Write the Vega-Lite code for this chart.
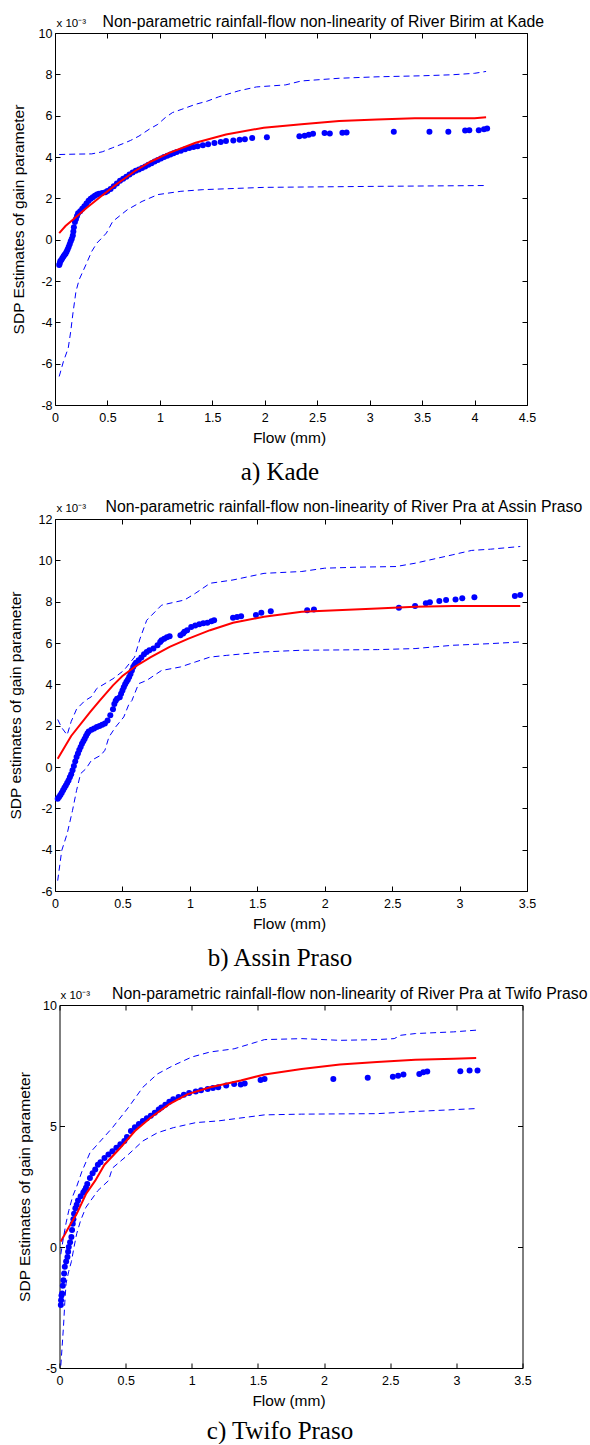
{
  "$schema": "https://vega.github.io/schema/vega-lite/v6.json",
  "padding": {"left": 8, "top": 13, "right": 0, "bottom": 0},
  "config": {
    "view": {"stroke": null},
    "axis": {
      "grid": false,
      "domainColor": "black",
      "domainWidth": 1,
      "tickColor": "black",
      "tickWidth": 1,
      "tickSize": -5,
      "labelColor": "black",
      "titleColor": "black",
      "labelFont": "Liberation Sans",
      "titleFont": "Liberation Sans",
      "labelFontSize": 12.5,
      "titleFontSize": 15.5,
      "titleFontWeight": "normal",
      "titleLimit": 2000,
      "labelFlush": false,
      "labelOverlap": false
    }
  },
  "datasets": {
    "kade": [
      {"s":"u","x":0.04,"y":4.12},{"s":"u","x":0.2,"y":4.14},{"s":"u","x":0.35,"y":4.15},{"s":"u","x":0.45,"y":4.25},{"s":"u","x":0.55,"y":4.45},{"s":"u","x":0.65,"y":4.65},{"s":"u","x":0.72,"y":4.8},{"s":"u","x":0.8,"y":5.01},{"s":"u","x":0.9,"y":5.35},{"s":"u","x":0.98,"y":5.58},{"s":"u","x":1.05,"y":5.9},{"s":"u","x":1.12,"y":6.15},{"s":"u","x":1.21,"y":6.31},{"s":"u","x":1.34,"y":6.55},{"s":"u","x":1.45,"y":6.7},{"s":"u","x":1.56,"y":6.91},{"s":"u","x":1.75,"y":7.2},{"s":"u","x":1.92,"y":7.39},{"s":"u","x":2.2,"y":7.49},{"s":"u","x":2.35,"y":7.68},{"s":"u","x":2.71,"y":7.81},{"s":"u","x":3.07,"y":7.88},{"s":"u","x":3.5,"y":7.93},{"s":"u","x":3.79,"y":7.98},{"s":"u","x":4.0,"y":8.05},{"s":"u","x":4.11,"y":8.14},
      {"s":"l","x":0.04,"y":-6.62},{"s":"l","x":0.08,"y":-5.9},{"s":"l","x":0.126,"y":-5.25},{"s":"l","x":0.15,"y":-4.44},{"s":"l","x":0.17,"y":-3.6},{"s":"l","x":0.2,"y":-2.5},{"s":"l","x":0.23,"y":-1.94},{"s":"l","x":0.295,"y":-1.21},{"s":"l","x":0.35,"y":-0.57},{"s":"l","x":0.4,"y":-0.16},{"s":"l","x":0.45,"y":0.1},{"s":"l","x":0.49,"y":0.32},{"s":"l","x":0.55,"y":0.88},{"s":"l","x":0.69,"y":1.45},{"s":"l","x":0.83,"y":1.85},{"s":"l","x":0.98,"y":2.18},{"s":"l","x":1.2,"y":2.34},{"s":"l","x":1.41,"y":2.42},{"s":"l","x":1.99,"y":2.53},{"s":"l","x":3.07,"y":2.58},{"s":"l","x":4.11,"y":2.62},
      {"s":"f","x":0.04,"y":0.32},{"s":"f","x":0.1,"y":0.66},{"s":"f","x":0.17,"y":0.96},{"s":"f","x":0.3,"y":1.53},{"s":"f","x":0.44,"y":2.1},{"s":"f","x":0.58,"y":2.66},{"s":"f","x":0.76,"y":3.31},{"s":"f","x":0.91,"y":3.77},{"s":"f","x":1.09,"y":4.2},{"s":"f","x":1.34,"y":4.69},{"s":"f","x":1.63,"y":5.09},{"s":"f","x":1.99,"y":5.42},{"s":"f","x":2.35,"y":5.58},{"s":"f","x":2.71,"y":5.74},{"s":"f","x":3.07,"y":5.82},{"s":"f","x":3.43,"y":5.87},{"s":"f","x":3.79,"y":5.87},{"s":"f","x":4.0,"y":5.88},{"s":"f","x":4.11,"y":5.92},
      {"s":"e","x":0.04,"y":-1.22},{"s":"e","x":0.045,"y":-1.15},{"s":"e","x":0.05,"y":-1.05},{"s":"e","x":0.06,"y":-0.98},{"s":"e","x":0.07,"y":-0.9},{"s":"e","x":0.08,"y":-0.82},{"s":"e","x":0.09,"y":-0.74},{"s":"e","x":0.1,"y":-0.68},{"s":"e","x":0.11,"y":-0.58},{"s":"e","x":0.12,"y":-0.48},{"s":"e","x":0.13,"y":-0.36},{"s":"e","x":0.14,"y":-0.22},{"s":"e","x":0.15,"y":-0.08},{"s":"e","x":0.16,"y":0.05},{"s":"e","x":0.17,"y":0.2},{"s":"e","x":0.175,"y":0.4},{"s":"e","x":0.18,"y":0.6},{"s":"e","x":0.19,"y":0.85},{"s":"e","x":0.2,"y":1.0},{"s":"e","x":0.21,"y":1.15},{"s":"e","x":0.22,"y":1.28},{"s":"e","x":0.24,"y":1.38},{"s":"e","x":0.26,"y":1.5},{"s":"e","x":0.28,"y":1.62},{"s":"e","x":0.3,"y":1.75},{"s":"e","x":0.32,"y":1.88},{"s":"e","x":0.34,"y":1.98},{"s":"e","x":0.36,"y":2.05},{"s":"e","x":0.38,"y":2.12},{"s":"e","x":0.4,"y":2.18},{"s":"e","x":0.42,"y":2.22},{"s":"e","x":0.45,"y":2.26},{"s":"e","x":0.48,"y":2.3},{"s":"e","x":0.5,"y":2.36},{"s":"e","x":0.53,"y":2.45},{"s":"e","x":0.56,"y":2.58},{"s":"e","x":0.59,"y":2.72},{"s":"e","x":0.62,"y":2.85},{"s":"e","x":0.65,"y":2.95},{"s":"e","x":0.68,"y":3.05},{"s":"e","x":0.71,"y":3.15},{"s":"e","x":0.74,"y":3.25},{"s":"e","x":0.77,"y":3.33},{"s":"e","x":0.8,"y":3.4},{"s":"e","x":0.83,"y":3.47},{"s":"e","x":0.86,"y":3.54},{"s":"e","x":0.89,"y":3.62},{"s":"e","x":0.92,"y":3.7},{"s":"e","x":0.95,"y":3.78},{"s":"e","x":0.98,"y":3.86},{"s":"e","x":1.01,"y":3.93},{"s":"e","x":1.04,"y":4.0},{"s":"e","x":1.07,"y":4.06},{"s":"e","x":1.1,"y":4.12},{"s":"e","x":1.13,"y":4.18},{"s":"e","x":1.16,"y":4.24},{"s":"e","x":1.2,"y":4.3},{"s":"e","x":1.24,"y":4.38},{"s":"e","x":1.28,"y":4.43},{"s":"e","x":1.32,"y":4.48},{"s":"e","x":1.36,"y":4.52},{"s":"e","x":1.41,"y":4.57},{"s":"e","x":1.46,"y":4.62},{"s":"e","x":1.52,"y":4.68},{"s":"e","x":1.58,"y":4.73},{"s":"e","x":1.63,"y":4.77},{"s":"e","x":1.7,"y":4.8},{"s":"e","x":1.76,"y":4.83},{"s":"e","x":1.81,"y":4.86},{"s":"e","x":1.88,"y":4.92},{"s":"e","x":2.02,"y":4.96},{"s":"e","x":2.33,"y":5.01},{"s":"e","x":2.38,"y":5.03},{"s":"e","x":2.42,"y":5.08},{"s":"e","x":2.46,"y":5.12},{"s":"e","x":2.57,"y":5.16},{"s":"e","x":2.62,"y":5.14},{"s":"e","x":2.74,"y":5.17},{"s":"e","x":2.78,"y":5.18},{"s":"e","x":3.23,"y":5.22},{"s":"e","x":3.57,"y":5.22},{"s":"e","x":3.75,"y":5.22},{"s":"e","x":3.91,"y":5.28},{"s":"e","x":3.95,"y":5.29},{"s":"e","x":4.04,"y":5.3},{"s":"e","x":4.09,"y":5.34},{"s":"e","x":4.12,"y":5.38}
    ],
    "assin": [
      {"s":"u","x":0.02,"y":2.3},{"s":"u","x":0.05,"y":1.9},{"s":"u","x":0.09,"y":1.55},{"s":"u","x":0.12,"y":2.2},{"s":"u","x":0.16,"y":2.8},{"s":"u","x":0.22,"y":3.2},{"s":"u","x":0.27,"y":3.4},{"s":"u","x":0.31,"y":3.8},{"s":"u","x":0.43,"y":4.27},{"s":"u","x":0.51,"y":4.67},{"s":"u","x":0.59,"y":5.32},{"s":"u","x":0.63,"y":6.2},{"s":"u","x":0.68,"y":7.1},{"s":"u","x":0.79,"y":7.83},{"s":"u","x":0.87,"y":7.95},{"s":"u","x":0.96,"y":8.08},{"s":"u","x":1.04,"y":8.4},{"s":"u","x":1.15,"y":8.89},{"s":"u","x":1.32,"y":9.05},{"s":"u","x":1.55,"y":9.37},{"s":"u","x":1.83,"y":9.46},{"s":"u","x":2.0,"y":9.62},{"s":"u","x":2.25,"y":9.67},{"s":"u","x":2.53,"y":9.7},{"s":"u","x":2.67,"y":9.86},{"s":"u","x":2.95,"y":10.27},{"s":"u","x":3.09,"y":10.48},{"s":"u","x":3.23,"y":10.54},{"s":"u","x":3.45,"y":10.67},
      {"s":"l","x":0.02,"y":-5.5},{"s":"l","x":0.05,"y":-4.04},{"s":"l","x":0.09,"y":-3.23},{"s":"l","x":0.13,"y":-2.1},{"s":"l","x":0.16,"y":-1.13},{"s":"l","x":0.19,"y":-0.32},{"s":"l","x":0.23,"y":-0.08},{"s":"l","x":0.27,"y":0.32},{"s":"l","x":0.34,"y":0.57},{"s":"l","x":0.37,"y":0.81},{"s":"l","x":0.4,"y":1.45},{"s":"l","x":0.45,"y":1.94},{"s":"l","x":0.51,"y":2.42},{"s":"l","x":0.55,"y":3.07},{"s":"l","x":0.57,"y":3.21},{"s":"l","x":0.62,"y":4.03},{"s":"l","x":0.68,"y":4.19},{"s":"l","x":0.79,"y":4.67},{"s":"l","x":0.93,"y":4.84},{"s":"l","x":1.04,"y":5.08},{"s":"l","x":1.15,"y":5.32},{"s":"l","x":1.27,"y":5.4},{"s":"l","x":1.55,"y":5.57},{"s":"l","x":1.83,"y":5.65},{"s":"l","x":2.39,"y":5.68},{"s":"l","x":2.67,"y":5.73},{"s":"l","x":2.95,"y":5.89},{"s":"l","x":3.23,"y":5.97},{"s":"l","x":3.45,"y":6.05},
      {"s":"f","x":0.02,"y":0.4},{"s":"f","x":0.12,"y":1.5},{"s":"f","x":0.26,"y":2.65},{"s":"f","x":0.33,"y":3.2},{"s":"f","x":0.43,"y":3.95},{"s":"f","x":0.5,"y":4.4},{"s":"f","x":0.59,"y":4.84},{"s":"f","x":0.71,"y":5.32},{"s":"f","x":0.85,"y":5.81},{"s":"f","x":0.99,"y":6.21},{"s":"f","x":1.15,"y":6.62},{"s":"f","x":1.32,"y":6.98},{"s":"f","x":1.55,"y":7.27},{"s":"f","x":1.83,"y":7.51},{"s":"f","x":2.39,"y":7.67},{"s":"f","x":2.67,"y":7.75},{"s":"f","x":2.95,"y":7.79},{"s":"f","x":3.45,"y":7.79},
      {"s":"e","x":0.02,"y":-1.54},{"s":"e","x":0.03,"y":-1.45},{"s":"e","x":0.04,"y":-1.35},{"s":"e","x":0.05,"y":-1.25},{"s":"e","x":0.06,"y":-1.13},{"s":"e","x":0.07,"y":-1.0},{"s":"e","x":0.08,"y":-0.9},{"s":"e","x":0.09,"y":-0.78},{"s":"e","x":0.1,"y":-0.65},{"s":"e","x":0.11,"y":-0.5},{"s":"e","x":0.12,"y":-0.35},{"s":"e","x":0.13,"y":-0.16},{"s":"e","x":0.14,"y":0.05},{"s":"e","x":0.15,"y":0.27},{"s":"e","x":0.16,"y":0.48},{"s":"e","x":0.17,"y":0.65},{"s":"e","x":0.18,"y":0.82},{"s":"e","x":0.19,"y":0.97},{"s":"e","x":0.2,"y":1.12},{"s":"e","x":0.21,"y":1.25},{"s":"e","x":0.22,"y":1.37},{"s":"e","x":0.23,"y":1.5},{"s":"e","x":0.24,"y":1.62},{"s":"e","x":0.25,"y":1.72},{"s":"e","x":0.27,"y":1.8},{"s":"e","x":0.29,"y":1.86},{"s":"e","x":0.31,"y":1.94},{"s":"e","x":0.33,"y":1.98},{"s":"e","x":0.35,"y":2.04},{"s":"e","x":0.37,"y":2.1},{"s":"e","x":0.39,"y":2.25},{"s":"e","x":0.41,"y":2.5},{"s":"e","x":0.43,"y":2.8},{"s":"e","x":0.44,"y":3.05},{"s":"e","x":0.45,"y":3.2},{"s":"e","x":0.46,"y":3.3},{"s":"e","x":0.48,"y":3.38},{"s":"e","x":0.49,"y":3.55},{"s":"e","x":0.5,"y":3.7},{"s":"e","x":0.51,"y":3.86},{"s":"e","x":0.52,"y":4.0},{"s":"e","x":0.53,"y":4.12},{"s":"e","x":0.54,"y":4.22},{"s":"e","x":0.55,"y":4.35},{"s":"e","x":0.56,"y":4.5},{"s":"e","x":0.57,"y":4.67},{"s":"e","x":0.58,"y":4.84},{"s":"e","x":0.59,"y":4.95},{"s":"e","x":0.6,"y":5.05},{"s":"e","x":0.62,"y":5.16},{"s":"e","x":0.64,"y":5.3},{"s":"e","x":0.66,"y":5.45},{"s":"e","x":0.68,"y":5.57},{"s":"e","x":0.7,"y":5.65},{"s":"e","x":0.73,"y":5.73},{"s":"e","x":0.76,"y":5.89},{"s":"e","x":0.78,"y":6.05},{"s":"e","x":0.79,"y":6.13},{"s":"e","x":0.81,"y":6.2},{"s":"e","x":0.83,"y":6.28},{"s":"e","x":0.85,"y":6.33},{"s":"e","x":0.93,"y":6.38},{"s":"e","x":0.95,"y":6.46},{"s":"e","x":0.96,"y":6.54},{"s":"e","x":0.98,"y":6.62},{"s":"e","x":1.01,"y":6.78},{"s":"e","x":1.04,"y":6.85},{"s":"e","x":1.07,"y":6.91},{"s":"e","x":1.1,"y":6.95},{"s":"e","x":1.13,"y":6.98},{"s":"e","x":1.16,"y":7.05},{"s":"e","x":1.18,"y":7.1},{"s":"e","x":1.32,"y":7.22},{"s":"e","x":1.35,"y":7.26},{"s":"e","x":1.38,"y":7.3},{"s":"e","x":1.49,"y":7.35},{"s":"e","x":1.53,"y":7.46},{"s":"e","x":1.6,"y":7.54},{"s":"e","x":1.87,"y":7.59},{"s":"e","x":1.92,"y":7.62},{"s":"e","x":2.55,"y":7.7},{"s":"e","x":2.67,"y":7.79},{"s":"e","x":2.75,"y":7.92},{"s":"e","x":2.78,"y":7.97},{"s":"e","x":2.85,"y":8.03},{"s":"e","x":2.9,"y":8.08},{"s":"e","x":2.97,"y":8.11},{"s":"e","x":3.02,"y":8.16},{"s":"e","x":3.11,"y":8.21},{"s":"e","x":3.41,"y":8.27},{"s":"e","x":3.45,"y":8.32}
    ],
    "twifo": [
      {"s":"u","x":0.01,"y":-0.3},{"s":"u","x":0.03,"y":0.4},{"s":"u","x":0.05,"y":1.0},{"s":"u","x":0.07,"y":1.5},{"s":"u","x":0.1,"y":2.1},{"s":"u","x":0.13,"y":2.5},{"s":"u","x":0.17,"y":3.13},{"s":"u","x":0.23,"y":3.89},{"s":"u","x":0.31,"y":4.38},{"s":"u","x":0.4,"y":4.93},{"s":"u","x":0.52,"y":5.76},{"s":"u","x":0.63,"y":6.6},{"s":"u","x":0.74,"y":7.15},{"s":"u","x":0.86,"y":7.5},{"s":"u","x":1.0,"y":7.85},{"s":"u","x":1.14,"y":8.06},{"s":"u","x":1.32,"y":8.19},{"s":"u","x":1.49,"y":8.47},{"s":"u","x":1.55,"y":8.57},{"s":"u","x":1.83,"y":8.61},{"s":"u","x":2.12,"y":8.54},{"s":"u","x":2.4,"y":8.57},{"s":"u","x":2.53,"y":8.61},{"s":"u","x":2.58,"y":8.75},{"s":"u","x":2.69,"y":8.82},{"s":"u","x":2.98,"y":8.89},{"s":"u","x":3.15,"y":8.96},
      {"s":"l","x":0.01,"y":-4.9},{"s":"l","x":0.03,"y":-3.3},{"s":"l","x":0.04,"y":-2.3},{"s":"l","x":0.05,"y":-1.5},{"s":"l","x":0.07,"y":-1.0},{"s":"l","x":0.09,"y":-0.6},{"s":"l","x":0.11,"y":0.0},{"s":"l","x":0.13,"y":0.55},{"s":"l","x":0.16,"y":1.1},{"s":"l","x":0.2,"y":1.64},{"s":"l","x":0.29,"y":2.33},{"s":"l","x":0.37,"y":2.74},{"s":"l","x":0.4,"y":3.26},{"s":"l","x":0.52,"y":3.82},{"s":"l","x":0.63,"y":4.38},{"s":"l","x":0.74,"y":4.72},{"s":"l","x":0.86,"y":4.93},{"s":"l","x":1.03,"y":5.14},{"s":"l","x":1.2,"y":5.21},{"s":"l","x":1.55,"y":5.46},{"s":"l","x":1.83,"y":5.49},{"s":"l","x":2.4,"y":5.51},{"s":"l","x":2.69,"y":5.6},{"s":"l","x":3.15,"y":5.72},
      {"s":"f","x":0.01,"y":0.23},{"s":"f","x":0.07,"y":0.82},{"s":"f","x":0.13,"y":1.37},{"s":"f","x":0.2,"y":2.19},{"s":"f","x":0.27,"y":2.74},{"s":"f","x":0.34,"y":3.4},{"s":"f","x":0.46,"y":4.1},{"s":"f","x":0.57,"y":4.79},{"s":"f","x":0.69,"y":5.35},{"s":"f","x":0.83,"y":5.9},{"s":"f","x":0.97,"y":6.32},{"s":"f","x":1.14,"y":6.6},{"s":"f","x":1.37,"y":6.88},{"s":"f","x":1.55,"y":7.13},{"s":"f","x":1.83,"y":7.36},{"s":"f","x":2.12,"y":7.54},{"s":"f","x":2.4,"y":7.64},{"s":"f","x":2.69,"y":7.74},{"s":"f","x":2.98,"y":7.78},{"s":"f","x":3.15,"y":7.81},
      {"s":"e","x":0.01,"y":-2.4},{"s":"e","x":0.012,"y":-2.2},{"s":"e","x":0.015,"y":-2.0},{"s":"e","x":0.02,"y":-1.92},{"s":"e","x":0.025,"y":-1.6},{"s":"e","x":0.03,"y":-1.37},{"s":"e","x":0.035,"y":-1.1},{"s":"e","x":0.04,"y":-0.82},{"s":"e","x":0.05,"y":-0.6},{"s":"e","x":0.06,"y":-0.41},{"s":"e","x":0.065,"y":-0.2},{"s":"e","x":0.07,"y":0.0},{"s":"e","x":0.08,"y":0.2},{"s":"e","x":0.09,"y":0.41},{"s":"e","x":0.095,"y":0.7},{"s":"e","x":0.1,"y":0.96},{"s":"e","x":0.105,"y":1.15},{"s":"e","x":0.11,"y":1.37},{"s":"e","x":0.12,"y":1.6},{"s":"e","x":0.13,"y":1.75},{"s":"e","x":0.14,"y":1.92},{"s":"e","x":0.16,"y":2.1},{"s":"e","x":0.18,"y":2.25},{"s":"e","x":0.19,"y":2.33},{"s":"e","x":0.2,"y":2.45},{"s":"e","x":0.21,"y":2.6},{"s":"e","x":0.23,"y":2.85},{"s":"e","x":0.25,"y":3.05},{"s":"e","x":0.27,"y":3.2},{"s":"e","x":0.29,"y":3.4},{"s":"e","x":0.31,"y":3.5},{"s":"e","x":0.34,"y":3.68},{"s":"e","x":0.37,"y":3.82},{"s":"e","x":0.4,"y":3.96},{"s":"e","x":0.43,"y":4.1},{"s":"e","x":0.46,"y":4.25},{"s":"e","x":0.49,"y":4.38},{"s":"e","x":0.51,"y":4.55},{"s":"e","x":0.54,"y":4.79},{"s":"e","x":0.57,"y":4.95},{"s":"e","x":0.6,"y":5.08},{"s":"e","x":0.63,"y":5.21},{"s":"e","x":0.66,"y":5.32},{"s":"e","x":0.69,"y":5.42},{"s":"e","x":0.72,"y":5.55},{"s":"e","x":0.75,"y":5.68},{"s":"e","x":0.77,"y":5.76},{"s":"e","x":0.8,"y":5.88},{"s":"e","x":0.83,"y":6.0},{"s":"e","x":0.86,"y":6.11},{"s":"e","x":0.9,"y":6.2},{"s":"e","x":0.94,"y":6.29},{"s":"e","x":0.98,"y":6.36},{"s":"e","x":1.03,"y":6.43},{"s":"e","x":1.07,"y":6.48},{"s":"e","x":1.12,"y":6.53},{"s":"e","x":1.16,"y":6.57},{"s":"e","x":1.2,"y":6.6},{"s":"e","x":1.26,"y":6.67},{"s":"e","x":1.32,"y":6.74},{"s":"e","x":1.37,"y":6.71},{"s":"e","x":1.4,"y":6.76},{"s":"e","x":1.52,"y":6.9},{"s":"e","x":1.55,"y":6.94},{"s":"e","x":2.07,"y":6.94},{"s":"e","x":2.33,"y":6.99},{"s":"e","x":2.52,"y":7.04},{"s":"e","x":2.56,"y":7.08},{"s":"e","x":2.6,"y":7.13},{"s":"e","x":2.72,"y":7.15},{"s":"e","x":2.75,"y":7.22},{"s":"e","x":2.78,"y":7.25},{"s":"e","x":3.03,"y":7.26},{"s":"e","x":3.1,"y":7.29},{"s":"e","x":3.16,"y":7.29}
    ]
  },
  "vconcat": [
    {
      "width": 472, "height": 372,
      "data": {"name": "kade"},
      "title": {"text": "a) Kade", "orient": "bottom", "anchor": "middle", "frame": "group", "font": "Liberation Serif", "fontSize": 25, "fontWeight": "normal", "color": "black", "dx": -11, "offset": 34, "baseline": "alphabetic"},
      "resolve": {"axis": {"x": "independent", "y": "independent"}},
      "layer": [
        {
          "transform": [{"filter": "datum.s === 'e'"}],
          "mark": {"type": "circle", "color": "#0000ff", "opacity": 1, "size": 36},
          "encoding": {
            "x": {"field": "x", "type": "quantitative", "scale": {"domain": [0, 4.5], "nice": false, "zero": false},
              "axis": {"orient": "bottom", "values": [0, 0.5, 1, 1.5, 2, 2.5, 3, 3.5, 4, 4.5], "labelExpr": "format(datum.value, '~g')", "labelPadding": 11, "title": "Flow (mm)", "titleX": 234, "titleY": 37.5, "titleBaseline": "alphabetic", "titleAlign": "center"}},
            "y": {"field": "y", "type": "quantitative", "scale": {"domain": [-8, 10], "nice": false, "zero": false},
              "axis": {"orient": "left", "values": [-8, -6, -4, -2, 0, 2, 4, 6, 8, 10], "labelExpr": "datum.value < 0 ? '-' + format(-datum.value, '~g') : format(datum.value, '~g')", "labelPadding": 8, "title": "SDP Estimates of gain parameter", "titleX": -31.5, "titleY": 186, "titleAngle": -90, "titleBaseline": "alphabetic", "titleAlign": "center"}}
          }
        },
        {
          "transform": [{"filter": "datum.s === 'f'"}],
          "mark": {"type": "line", "color": "#ff0000", "strokeWidth": 2},
          "encoding": {
            "x": {"field": "x", "type": "quantitative", "scale": {"domain": [0, 4.5], "nice": false, "zero": false},
              "axis": {"orient": "top", "values": [0, 0.5, 1, 1.5, 2, 2.5, 3, 3.5, 4, 4.5], "labels": false, "title": "Non-parametric rainfall-flow non-linearity of River Birim at Kade", "titleFontSize": 15.8, "titleX": 47, "titleY": -7, "titleAngle": 0, "titleAlign": "left", "titleBaseline": "alphabetic"}},
            "y": {"field": "y", "type": "quantitative", "scale": {"domain": [-8, 10], "nice": false, "zero": false},
              "axis": {"orient": "right", "values": [-8, -6, -4, -2, 0, 2, 4, 6, 8, 10], "labels": false, "title": "x 10⁻³", "titleFontSize": 11.5, "titleX": -471, "titleY": -7, "titleAngle": 0, "titleAlign": "left", "titleBaseline": "alphabetic"}}
          }
        },
        {
          "transform": [{"filter": "datum.s === 'u' || datum.s === 'l'"}],
          "mark": {"type": "line", "color": "#0000ff", "strokeWidth": 1, "strokeDash": [6, 4]},
          "encoding": {
            "x": {"field": "x", "type": "quantitative", "scale": {"domain": [0, 4.5], "nice": false, "zero": false}, "axis": null},
            "y": {"field": "y", "type": "quantitative", "scale": {"domain": [-8, 10], "nice": false, "zero": false}, "axis": null},
            "detail": {"field": "s"}
          }
        }
      ]
    },
    {
      "width": 472, "height": 372,
      "data": {"name": "assin"},
      "title": {"text": "b) Assin Praso", "orient": "bottom", "anchor": "middle", "frame": "group", "font": "Liberation Serif", "fontSize": 25, "fontWeight": "normal", "color": "black", "dx": -11, "offset": 34, "baseline": "alphabetic"},
      "resolve": {"axis": {"x": "independent", "y": "independent"}},
      "layer": [
        {
          "transform": [{"filter": "datum.s === 'e'"}],
          "mark": {"type": "circle", "color": "#0000ff", "opacity": 1, "size": 36},
          "encoding": {
            "x": {"field": "x", "type": "quantitative", "scale": {"domain": [0, 3.5], "nice": false, "zero": false},
              "axis": {"orient": "bottom", "values": [0, 0.5, 1, 1.5, 2, 2.5, 3, 3.5], "labelExpr": "format(datum.value, '~g')", "labelPadding": 11, "title": "Flow (mm)", "titleX": 234, "titleY": 37.5, "titleBaseline": "alphabetic", "titleAlign": "center"}},
            "y": {"field": "y", "type": "quantitative", "scale": {"domain": [-6, 12], "nice": false, "zero": false},
              "axis": {"orient": "left", "values": [-6, -4, -2, 0, 2, 4, 6, 8, 10, 12], "labelExpr": "datum.value < 0 ? '-' + format(-datum.value, '~g') : format(datum.value, '~g')", "labelPadding": 8, "title": "SDP estimates of gain parameter", "titleX": -34.5, "titleY": 186, "titleAngle": -90, "titleBaseline": "alphabetic", "titleAlign": "center"}}
          }
        },
        {
          "transform": [{"filter": "datum.s === 'f'"}],
          "mark": {"type": "line", "color": "#ff0000", "strokeWidth": 2},
          "encoding": {
            "x": {"field": "x", "type": "quantitative", "scale": {"domain": [0, 3.5], "nice": false, "zero": false},
              "axis": {"orient": "top", "values": [0, 0.5, 1, 1.5, 2, 2.5, 3, 3.5], "labels": false, "title": "Non-parametric rainfall-flow non-linearity of River Pra at Assin Praso", "titleFontSize": 15.8, "titleX": 50, "titleY": -8, "titleAngle": 0, "titleAlign": "left", "titleBaseline": "alphabetic"}},
            "y": {"field": "y", "type": "quantitative", "scale": {"domain": [-6, 12], "nice": false, "zero": false},
              "axis": {"orient": "right", "values": [-6, -4, -2, 0, 2, 4, 6, 8, 10, 12], "labels": false, "title": "x 10⁻³", "titleFontSize": 11.5, "titleX": -471, "titleY": -8, "titleAngle": 0, "titleAlign": "left", "titleBaseline": "alphabetic"}}
          }
        },
        {
          "transform": [{"filter": "datum.s === 'u' || datum.s === 'l'"}],
          "mark": {"type": "line", "color": "#0000ff", "strokeWidth": 1, "strokeDash": [6, 4]},
          "encoding": {
            "x": {"field": "x", "type": "quantitative", "scale": {"domain": [0, 3.5], "nice": false, "zero": false}, "axis": null},
            "y": {"field": "y", "type": "quantitative", "scale": {"domain": [-6, 12], "nice": false, "zero": false}, "axis": null},
            "detail": {"field": "s"}
          }
        }
      ]
    },
    {
      "width": 463, "height": 363,
      "data": {"name": "twifo"},
      "title": {"text": "c) Twifo Praso", "orient": "bottom", "anchor": "middle", "frame": "group", "font": "Liberation Serif", "fontSize": 25, "fontWeight": "normal", "color": "black", "dx": -11, "offset": 30, "baseline": "alphabetic"},
      "resolve": {"axis": {"x": "independent", "y": "independent"}},
      "layer": [
        {
          "transform": [{"filter": "datum.s === 'e'"}],
          "mark": {"type": "circle", "color": "#0000ff", "opacity": 1, "size": 36},
          "encoding": {
            "x": {"field": "x", "type": "quantitative", "scale": {"domain": [0, 3.5], "nice": false, "zero": false},
              "axis": {"orient": "bottom", "values": [0, 0.5, 1, 1.5, 2, 2.5, 3, 3.5], "labelExpr": "format(datum.value, '~g')", "labelPadding": 11, "title": "Flow (mm)", "titleX": 229, "titleY": 37.5, "titleBaseline": "alphabetic", "titleAlign": "center"}},
            "y": {"field": "y", "type": "quantitative", "scale": {"domain": [-5, 10], "nice": false, "zero": false},
              "axis": {"orient": "left", "values": [-5, 0, 5, 10], "labelExpr": "datum.value < 0 ? '-' + format(-datum.value, '~g') : format(datum.value, '~g')", "labelPadding": 8, "title": "SDP Estimates of gain parameter", "titleX": -30.5, "titleY": 181.5, "titleAngle": -90, "titleBaseline": "alphabetic", "titleAlign": "center"}}
          }
        },
        {
          "transform": [{"filter": "datum.s === 'f'"}],
          "mark": {"type": "line", "color": "#ff0000", "strokeWidth": 2},
          "encoding": {
            "x": {"field": "x", "type": "quantitative", "scale": {"domain": [0, 3.5], "nice": false, "zero": false},
              "axis": {"orient": "top", "values": [0, 0.5, 1, 1.5, 2, 2.5, 3, 3.5], "labels": false, "title": "Non-parametric rainfall-flow non-linearity of River Pra at Twifo Praso", "titleFontSize": 15.8, "titleX": 52, "titleY": -7, "titleAngle": 0, "titleAlign": "left", "titleBaseline": "alphabetic"}},
            "y": {"field": "y", "type": "quantitative", "scale": {"domain": [-5, 10], "nice": false, "zero": false},
              "axis": {"orient": "right", "values": [-5, 0, 5, 10], "labels": false, "title": "x 10⁻³", "titleFontSize": 11.5, "titleX": -462.5, "titleY": -7, "titleAngle": 0, "titleAlign": "left", "titleBaseline": "alphabetic"}}
          }
        },
        {
          "transform": [{"filter": "datum.s === 'u' || datum.s === 'l'"}],
          "mark": {"type": "line", "color": "#0000ff", "strokeWidth": 1, "strokeDash": [6, 4]},
          "encoding": {
            "x": {"field": "x", "type": "quantitative", "scale": {"domain": [0, 3.5], "nice": false, "zero": false}, "axis": null},
            "y": {"field": "y", "type": "quantitative", "scale": {"domain": [-5, 10], "nice": false, "zero": false}, "axis": null},
            "detail": {"field": "s"}
          }
        }
      ]
    }
  ],
  "spacing": 114,
  "bounds": "flush",
  "center": true
}
